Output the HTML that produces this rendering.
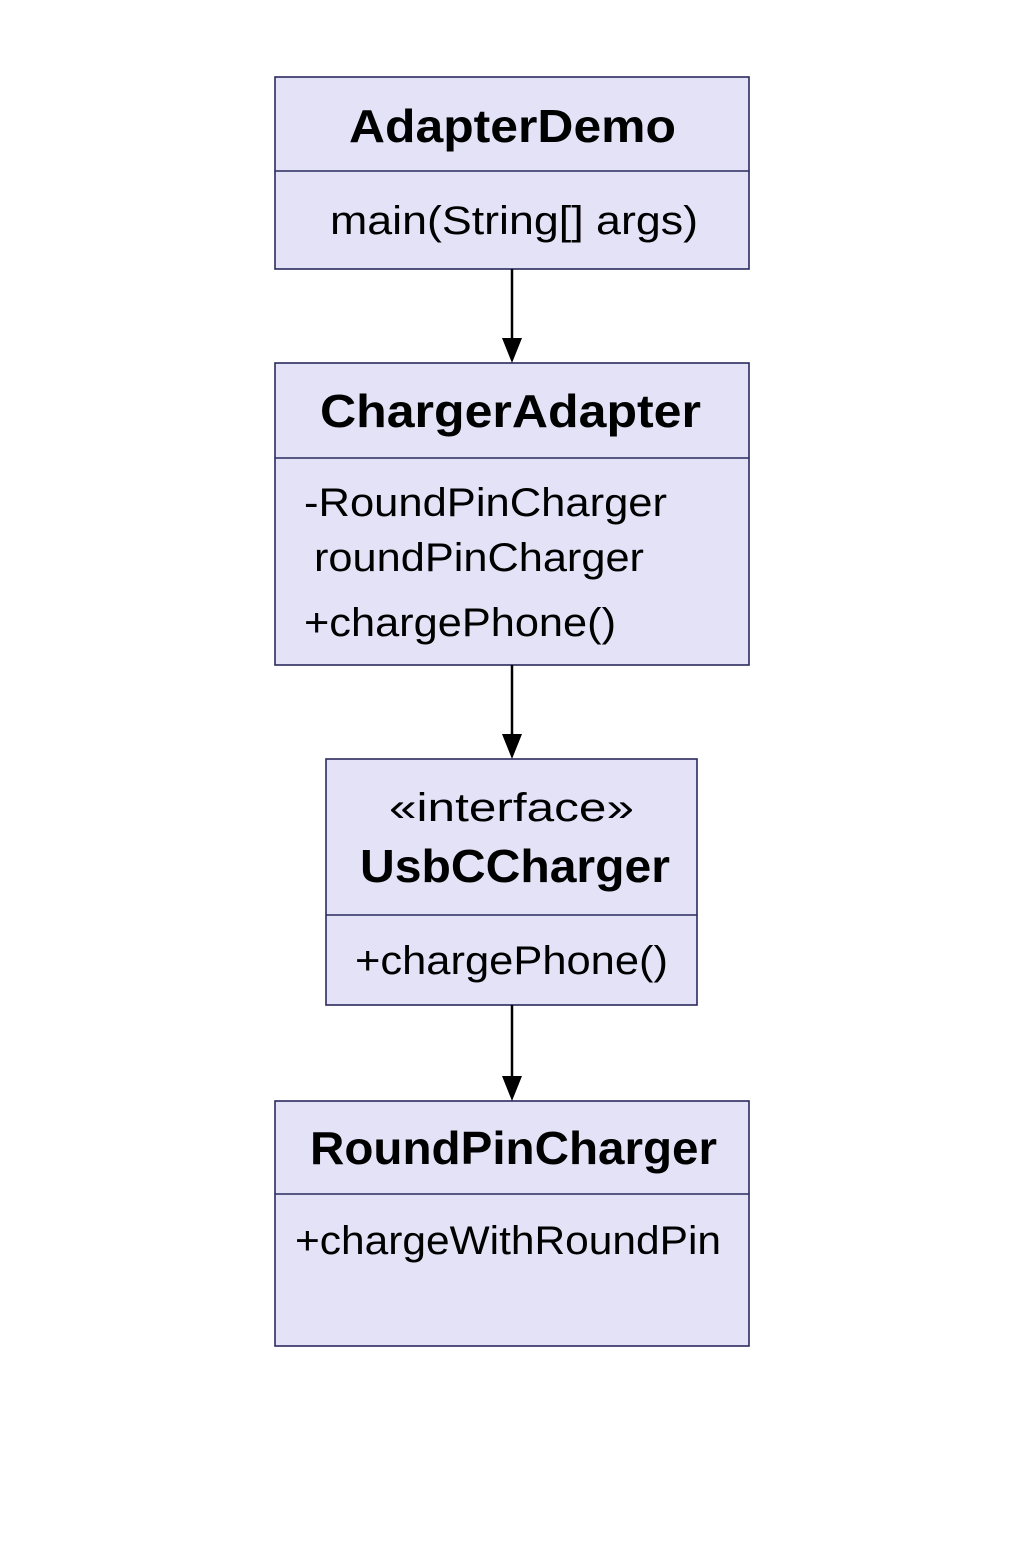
<!DOCTYPE html>
<html><head><meta charset="utf-8"><style>html,body{margin:0;padding:0;background:#fff}</style></head>
<body>
<svg width="1024" height="1536" xmlns="http://www.w3.org/2000/svg" font-family="Liberation Sans, sans-serif">
<g fill="#e4e2f6" stroke="#2a2a5e" stroke-width="1.6">
<rect x="275" y="77" width="474" height="192"/>
<line x1="275" y1="171" x2="749" y2="171"/>
<rect x="275" y="363" width="474" height="302"/>
<line x1="275" y1="458" x2="749" y2="458"/>
<rect x="326" y="759" width="371" height="246"/>
<line x1="326" y1="915" x2="697" y2="915"/>
<rect x="275" y="1101" width="474" height="245"/>
<line x1="275" y1="1194" x2="749" y2="1194"/>
</g>
<g stroke="#000" stroke-width="2.5" fill="none">
<line x1="512" y1="269" x2="512" y2="340"/>
<line x1="512" y1="665" x2="512" y2="736"/>
<line x1="512" y1="1005" x2="512" y2="1078"/>
</g>
<g fill="#000">
<polygon points="502,338 522,338 512,363"/>
<polygon points="502,734 522,734 512,759"/>
<polygon points="502,1076 522,1076 512,1101"/>
</g>
<g fill="#000" font-size="46" font-weight="bold">
<text x="349" y="142" textLength="327" lengthAdjust="spacingAndGlyphs">AdapterDemo</text>
<text x="320" y="427" textLength="381" lengthAdjust="spacingAndGlyphs">ChargerAdapter</text>
<text x="360" y="882" textLength="310" lengthAdjust="spacingAndGlyphs">UsbCCharger</text>
<text x="310" y="1164" textLength="407" lengthAdjust="spacingAndGlyphs">RoundPinCharger</text>
</g>
<g fill="#000" font-size="40">
<text x="330" y="234" textLength="368" lengthAdjust="spacingAndGlyphs">main(String[] args)</text>
<text x="304" y="516" textLength="363" lengthAdjust="spacingAndGlyphs">-RoundPinCharger</text>
<text x="314" y="571" textLength="330" lengthAdjust="spacingAndGlyphs">roundPinCharger</text>
<text x="304" y="636" textLength="312" lengthAdjust="spacingAndGlyphs">+chargePhone()</text>
<text x="389" y="821" textLength="245" lengthAdjust="spacingAndGlyphs">«interface»</text>
<text x="355" y="974" textLength="313" lengthAdjust="spacingAndGlyphs">+chargePhone()</text>
<text x="295" y="1254" textLength="426" lengthAdjust="spacingAndGlyphs">+chargeWithRoundPin</text>
</g>
</svg>
</body></html>
